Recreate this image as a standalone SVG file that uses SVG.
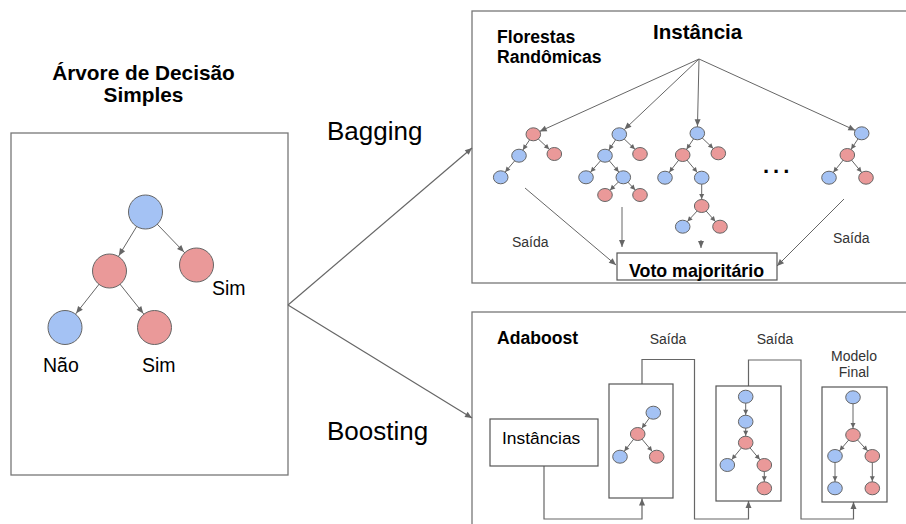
<svg xmlns="http://www.w3.org/2000/svg" width="906" height="524" viewBox="0 0 906 524">
<style>
text{font-family:"Liberation Sans",Arial,sans-serif;fill:#000}
.bold{font-weight:bold}
.lbl{fill:#333;font-size:14px}
.panel{fill:none;stroke:#777;stroke-width:1.3}
.box{fill:#fff;stroke:#555;stroke-width:1.2}
.b{fill:#a4c2f4;stroke:#666;stroke-width:1}
.r{fill:#ea9999;stroke:#666;stroke-width:1}
.e{fill:none;stroke:#666;stroke-width:1}
.c{fill:none;stroke:#666;stroke-width:1.2}
</style>
<defs>
<marker id="a" markerUnits="userSpaceOnUse" markerWidth="7" markerHeight="6" viewBox="0 0 7 6" refX="7" refY="3" orient="auto" overflow="visible"><path d="M0,0 L7,3 L0,6 z" fill="#666"/></marker>
<marker id="s" markerUnits="userSpaceOnUse" markerWidth="5" markerHeight="5" viewBox="0 0 5 5" refX="12" refY="2.5" orient="auto" overflow="visible"><path d="M0,0 L5,2.5 L0,5 z" fill="#666"/></marker>
<marker id="f" markerUnits="userSpaceOnUse" markerWidth="7" markerHeight="6" viewBox="0 0 7 6" refX="14" refY="3" orient="auto" overflow="visible"><path d="M0,0 L7,3 L0,6 z" fill="#666"/></marker>
<marker id="L" markerUnits="userSpaceOnUse" markerWidth="7" markerHeight="6" viewBox="0 0 7 6" refX="25" refY="3" orient="auto" overflow="visible"><path d="M0,0 L7,3 L0,6 z" fill="#666"/></marker>
</defs>
<rect width="906" height="524" fill="#fff"/>

<!-- panels -->
<g id="panel-left">
<text class="bold" x="143.5" y="80" font-size="20.8" text-anchor="middle">Árvore de Decisão</text>
<text class="bold" x="143.5" y="102" font-size="20.8" text-anchor="middle">Simples</text>
<rect class="panel" x="11" y="133" width="277" height="342"/>
</g>
<g id="panel-bagging">
<rect class="panel" x="472" y="11" width="450" height="272"/>
<text class="bold" x="497" y="43" font-size="17.6">Florestas</text>
<text class="bold" x="497" y="62.5" font-size="17.6">Randômicas</text>
<text class="bold" x="653" y="39" font-size="20.6">Instância</text>
<text class="bold" x="763" y="173" font-size="22" letter-spacing="4">...</text>
<text class="lbl" x="512" y="247">Saída</text>
<text class="lbl" x="833" y="243">Saída</text>
</g>
<g id="panel-boosting">
<rect class="panel" x="472" y="312" width="450" height="230"/>
<text class="bold" x="497" y="344" font-size="17.6">Adaboost</text>
<text class="lbl" x="668" y="344" text-anchor="middle">Saída</text>
<text class="lbl" x="775" y="344" text-anchor="middle">Saída</text>
<text class="lbl" x="854" y="361" text-anchor="middle">Modelo</text>
<text class="lbl" x="854" y="377" text-anchor="middle">Final</text>
</g>
<text x="327" y="140" font-size="26">Bagging</text>
<text x="327" y="440" font-size="26">Boosting</text>

<!-- connectors -->
<g id="connectors">
<path class="c" d="M288,305 L472,148" marker-end="url(#a)"/>
<path class="c" d="M288,305 L472,418" marker-end="url(#a)"/>
<!-- left tree -->
<path class="e" d="M145.5,212 L109.5,271" marker-end="url(#L)"/>
<path class="e" d="M145.5,212 L196.5,265" marker-end="url(#L)"/>
<path class="e" d="M109.5,271 L65,327.5" marker-end="url(#L)"/>
<path class="e" d="M109.5,271 L154.5,327.5" marker-end="url(#L)"/>
<!-- fan -->
<path class="e" d="M699,59 L533.3,134.3" marker-end="url(#f)"/>
<path class="e" d="M699,59 L619.3,134.3" marker-end="url(#f)"/>
<path class="e" d="M699,59 L697.3,133.3" marker-end="url(#f)"/>
<path class="e" d="M699,59 L861.7,133.3" marker-end="url(#f)"/>
<!-- tree1 -->
<path class="e" d="M533.3,134.3 L519,155.7" marker-end="url(#s)"/>
<path class="e" d="M533.3,134.3 L554.3,154" marker-end="url(#s)"/>
<path class="e" d="M519,155.7 L500.7,177.3" marker-end="url(#s)"/>
<!-- tree2 -->
<path class="e" d="M619.3,134.3 L605,155.7" marker-end="url(#s)"/>
<path class="e" d="M619.3,134.3 L640,154" marker-end="url(#s)"/>
<path class="e" d="M605,155.7 L586,177.3" marker-end="url(#s)"/>
<path class="e" d="M605,155.7 L623.3,177.3" marker-end="url(#s)"/>
<path class="e" d="M623.3,177.3 L605,195" marker-end="url(#s)"/>
<path class="e" d="M623.3,177.3 L640,195" marker-end="url(#s)"/>
<!-- tree3 -->
<path class="e" d="M697.3,133.3 L682.7,155" marker-end="url(#s)"/>
<path class="e" d="M697.3,133.3 L718.3,153.3" marker-end="url(#s)"/>
<path class="e" d="M682.7,155 L665,177.7" marker-end="url(#s)"/>
<path class="e" d="M682.7,155 L701.7,177.7" marker-end="url(#s)"/>
<path class="e" d="M701.7,177.7 L701.7,206" marker-end="url(#s)"/>
<path class="e" d="M701.7,206 L682.7,226.7" marker-end="url(#s)"/>
<path class="e" d="M701.7,206 L720,226.7" marker-end="url(#s)"/>
<!-- tree4 -->
<path class="e" d="M861.7,133.3 L847.3,155" marker-end="url(#s)"/>
<path class="e" d="M847.3,155 L829,177.7" marker-end="url(#s)"/>
<path class="e" d="M847.3,155 L866,177.7" marker-end="url(#s)"/>
<!-- outputs to vote -->
<path class="e" d="M525,188 L616,265" marker-end="url(#a)"/>
<path class="e" d="M622,207 L622,247" marker-end="url(#a)"/>
<path class="e" d="M701,240 L701,248" marker-end="url(#a)"/>
<path class="e" d="M844,199 L777,266" marker-end="url(#a)"/>
<!-- boosting chain -->
<path class="c" d="M544,466 V519 H642 V498.5" marker-end="url(#a)"/>
<path class="c" d="M642,384 V359.5 H694.5 V519 H748.5 V501" marker-end="url(#a)"/>
<path class="c" d="M748.5,386 V360 H801 V519 H853.5 V502" marker-end="url(#a)"/>
<!-- box1 tree -->
<path class="e" d="M653.3,412.7 L637.7,434" marker-end="url(#s)"/>
<path class="e" d="M637.7,434 L620,456.7" marker-end="url(#s)"/>
<path class="e" d="M637.7,434 L656.7,456.7" marker-end="url(#s)"/>
<!-- box2 tree -->
<path class="e" d="M745.7,396.7 L745.7,421.7" marker-end="url(#s)"/>
<path class="e" d="M745.7,421.7 L745.7,442.7" marker-end="url(#s)"/>
<path class="e" d="M745.7,442.7 L727.3,465" marker-end="url(#s)"/>
<path class="e" d="M745.7,442.7 L764.3,465" marker-end="url(#s)"/>
<path class="e" d="M764.3,465 L764.3,488.3" marker-end="url(#s)"/>
<!-- box3 tree -->
<path class="e" d="M853,397.3 L853,435" marker-end="url(#s)"/>
<path class="e" d="M853,435 L835,456" marker-end="url(#s)"/>
<path class="e" d="M853,435 L872.3,456" marker-end="url(#s)"/>
<path class="e" d="M835,456 L835,488.3" marker-end="url(#s)"/>
<path class="e" d="M872.3,456 L872.3,488.3" marker-end="url(#s)"/>
</g>

<!-- left tree nodes -->
<g id="lt-root"><circle class="b" cx="145.5" cy="212" r="17"/></g>
<g id="lt-l"><circle class="r" cx="109.5" cy="271" r="17"/></g>
<g id="lt-r"><circle class="r" cx="196.5" cy="265" r="17"/><text x="212" y="295" font-size="19.5">Sim</text></g>
<g id="lt-ll"><circle class="b" cx="65" cy="327.5" r="17"/><text x="43" y="372" font-size="19.5">Não</text></g>
<g id="lt-lr"><circle class="r" cx="154.5" cy="327.5" r="17"/><text x="142" y="372" font-size="19.5">Sim</text></g>

<!-- random forest trees -->
<g id="tree1">
<ellipse class="r" cx="533.3" cy="134.3" rx="7.3" ry="6.5"/>
<ellipse class="b" cx="519" cy="155.7" rx="7.3" ry="6.5"/>
<ellipse class="r" cx="554.3" cy="154" rx="7.3" ry="6.5"/>
<ellipse class="b" cx="500.7" cy="177.3" rx="7.3" ry="6.5"/>
</g>
<g id="tree2">
<ellipse class="b" cx="619.3" cy="134.3" rx="7.3" ry="6.5"/>
<ellipse class="b" cx="605" cy="155.7" rx="7.3" ry="6.5"/>
<ellipse class="r" cx="640" cy="154" rx="7.3" ry="6.5"/>
<ellipse class="b" cx="586" cy="177.3" rx="7.3" ry="6.5"/>
<ellipse class="b" cx="623.3" cy="177.3" rx="7.3" ry="6.5"/>
<ellipse class="r" cx="605" cy="195" rx="7.3" ry="6.5"/>
<ellipse class="r" cx="640" cy="195" rx="7.3" ry="6.5"/>
</g>
<g id="tree3">
<ellipse class="b" cx="697.3" cy="133.3" rx="7.3" ry="6.5"/>
<ellipse class="r" cx="682.7" cy="155" rx="7.3" ry="6.5"/>
<ellipse class="r" cx="718.3" cy="153.3" rx="7.3" ry="6.5"/>
<ellipse class="b" cx="665" cy="177.7" rx="7.3" ry="6.5"/>
<ellipse class="b" cx="701.7" cy="177.7" rx="7.3" ry="6.5"/>
<ellipse class="r" cx="701.7" cy="206" rx="7.3" ry="6.5"/>
<ellipse class="b" cx="682.7" cy="226.7" rx="7.3" ry="6.5"/>
<ellipse class="r" cx="720" cy="226.7" rx="7.3" ry="6.5"/>
</g>
<g id="tree4">
<ellipse class="b" cx="861.7" cy="133.3" rx="7.3" ry="6.5"/>
<ellipse class="r" cx="847.3" cy="155" rx="7.3" ry="6.5"/>
<ellipse class="b" cx="829" cy="177.7" rx="7.3" ry="6.5"/>
<ellipse class="r" cx="866" cy="177.7" rx="7.3" ry="6.5"/>
</g>
<g id="vote">
<rect class="box" x="617" y="253" width="160" height="27"/>
<text class="bold" x="696.5" y="277" font-size="17.8" text-anchor="middle">Voto majoritário</text>
</g>

<!-- boosting -->
<g id="instancias">
<rect class="box" x="490" y="419" width="108" height="47"/>
<text x="502" y="444" font-size="17.4">Instâncias</text>
</g>
<g id="model1">
<rect class="box" x="609" y="384" width="64" height="114" style="fill:none"/>
<ellipse class="b" cx="653.3" cy="412.7" rx="7.3" ry="6.5"/>
<ellipse class="r" cx="637.7" cy="434" rx="7.3" ry="6.5"/>
<ellipse class="b" cx="620" cy="456.7" rx="7.3" ry="6.5"/>
<ellipse class="r" cx="656.7" cy="456.7" rx="7.3" ry="6.5"/>
</g>
<g id="model2">
<rect class="box" x="716" y="386" width="65" height="115" style="fill:none"/>
<ellipse class="b" cx="745.7" cy="396.7" rx="7.3" ry="6.5"/>
<ellipse class="b" cx="745.7" cy="421.7" rx="7.3" ry="6.5"/>
<ellipse class="r" cx="745.7" cy="442.7" rx="7.3" ry="6.5"/>
<ellipse class="b" cx="727.3" cy="465" rx="7.3" ry="6.5"/>
<ellipse class="r" cx="764.3" cy="465" rx="7.3" ry="6.5"/>
<ellipse class="r" cx="764.3" cy="488.3" rx="7.3" ry="6.5"/>
</g>
<g id="model-final">
<rect class="box" x="822" y="387" width="65" height="115" style="fill:none"/>
<ellipse class="b" cx="853" cy="397.3" rx="7.3" ry="6.5"/>
<ellipse class="r" cx="853" cy="435" rx="7.3" ry="6.5"/>
<ellipse class="b" cx="835" cy="456" rx="7.3" ry="6.5"/>
<ellipse class="r" cx="872.3" cy="456" rx="7.3" ry="6.5"/>
<ellipse class="b" cx="835" cy="488.3" rx="7.3" ry="6.5"/>
<ellipse class="r" cx="872.3" cy="488.3" rx="7.3" ry="6.5"/>
</g>
</svg>
